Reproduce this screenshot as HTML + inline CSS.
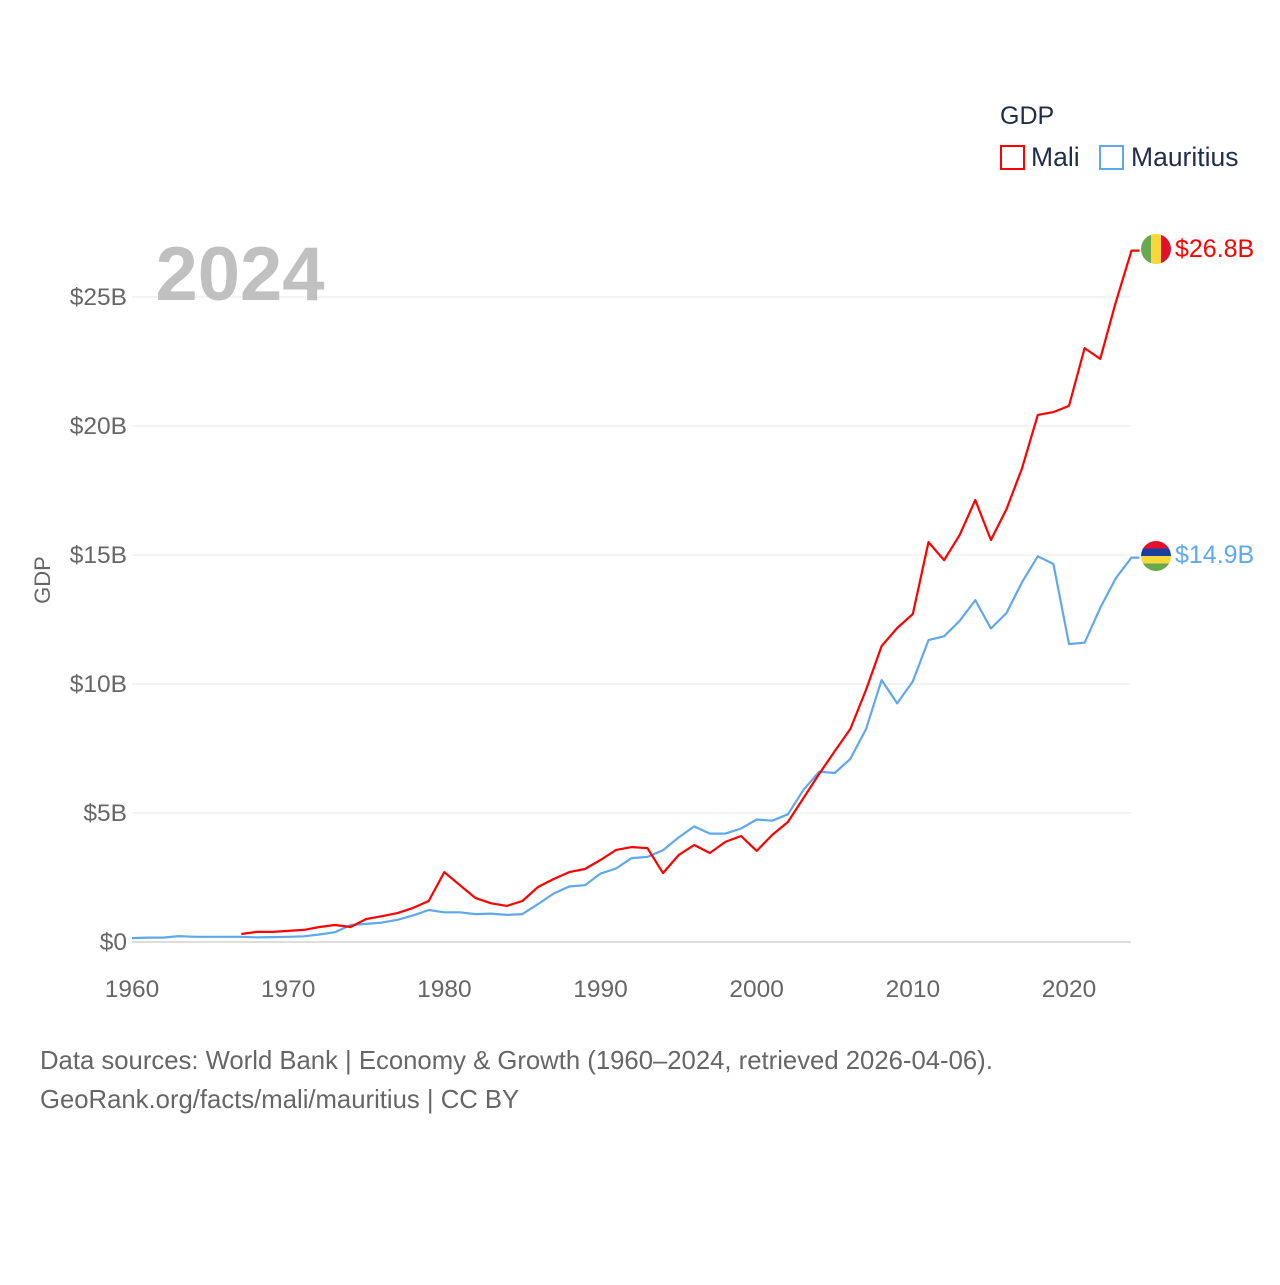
<!DOCTYPE html>
<html><head><meta charset="utf-8"><style>
body{margin:0;background:#fff;font-family:"Liberation Sans",sans-serif}
svg text{font-family:"Liberation Sans",sans-serif}
</style></head><body>
<svg width="1280" height="1280" viewBox="0 0 1280 1280">
<g id="grid"></g>
<g id="xt"></g>
<text x="240" y="300" font-size="76" font-weight="bold" fill="#c0c0c0" text-anchor="middle">2024</text>
<text x="50" y="580" font-size="22" fill="#666" text-anchor="middle" transform="rotate(-90 50 580)">GDP</text>
<g id="lines"></g>
<g>
<text x="1000" y="124" font-size="25" fill="#1f2d4a">GDP</text>
<rect x="1001" y="146" width="23" height="23" fill="none" stroke="#ff0000" stroke-width="2"/>
<text x="1031" y="166" font-size="26.5" fill="#1f2d4a">Mali</text>
<rect x="1100" y="146" width="23" height="23" fill="none" stroke="#5fa8ec" stroke-width="2"/>
<text x="1131" y="166" font-size="26.5" fill="#1f2d4a">Mauritius</text>
</g>
<defs><clipPath id="c1"><circle cx="1156" cy="249" r="15"/></clipPath><clipPath id="c2"><circle cx="1156" cy="556" r="15"/></clipPath></defs>
<g clip-path="url(#c1)">
<rect x="1141" y="234" width="10" height="30" fill="#6aa84f"/><rect x="1151" y="234" width="10" height="30" fill="#f6d83a"/><rect x="1161" y="234" width="10" height="30" fill="#e3102c"/></g>
<g clip-path="url(#c2)">
<rect x="1141" y="541" width="30" height="8" fill="#e3102c"/><rect x="1141" y="548.5" width="30" height="8" fill="#1a3f9e"/><rect x="1141" y="556" width="30" height="8" fill="#f6d83a"/><rect x="1141" y="563.5" width="30" height="8" fill="#6aa84f"/></g>
<text x="1175" y="257" font-size="25" fill="#ff0000">$26.8B</text>
<text x="1175" y="563" font-size="25" fill="#5fa8ec">$14.9B</text>
<text x="40" y="1069" font-size="25.7" fill="#666">Data sources: World Bank | Economy &amp; Growth (1960–2024, retrieved 2026-04-06).</text>
<text x="40" y="1108" font-size="25.7" fill="#666">GeoRank.org/facts/mali/mauritius | CC BY</text>
</svg>
<script>
const maliYears=[1967,1968,1969,1970,1971,1972,1973,1974,1975,1976,1977,1978,1979,1980,1981,1982,1983,1984,1985,1986,1987,1988,1989,1990,1991,1992,1993,1994,1995,1996,1997,1998,1999,2000,2001,2002,2003,2004,2005,2006,2007,2008,2009,2010,2011,2012,2013,2014,2015,2016,2017,2018,2019,2020,2021,2022,2023,2024];
const maliGDP=[0.31,0.39,0.39,0.43,0.47,0.58,0.66,0.58,0.89,1.0,1.12,1.32,1.59,2.71,2.2,1.7,1.5,1.4,1.59,2.13,2.44,2.71,2.83,3.18,3.57,3.68,3.64,2.67,3.37,3.76,3.45,3.88,4.11,3.53,4.15,4.65,5.58,6.51,7.4,8.26,9.77,11.47,12.17,12.71,15.5,14.8,15.78,17.13,15.58,16.78,18.37,20.43,20.54,20.78,23.02,22.6,24.8,26.8];
const mauYears=[1960,1961,1962,1963,1964,1965,1966,1967,1968,1969,1970,1971,1972,1973,1974,1975,1976,1977,1978,1979,1980,1981,1982,1983,1984,1985,1986,1987,1988,1989,1990,1991,1992,1993,1994,1995,1996,1997,1998,1999,2000,2001,2002,2003,2004,2005,2006,2007,2008,2009,2010,2011,2012,2013,2014,2015,2016,2017,2018,2019,2020,2021,2022,2023,2024];
const mauGDP=[0.15,0.17,0.17,0.23,0.2,0.2,0.2,0.2,0.18,0.19,0.2,0.22,0.29,0.38,0.66,0.7,0.75,0.86,1.03,1.24,1.15,1.15,1.08,1.1,1.05,1.08,1.47,1.88,2.15,2.2,2.65,2.85,3.25,3.3,3.56,4.05,4.48,4.2,4.2,4.4,4.75,4.7,4.95,5.9,6.6,6.55,7.1,8.25,10.15,9.25,10.1,11.7,11.85,12.45,13.25,12.15,12.75,13.95,14.95,14.65,11.55,11.6,12.95,14.1,14.9];
const yTicks=[0,5,10,15,20,25];
const yTickLabels=["$0","$5B","$10B","$15B","$20B","$25B"];
const xTicks=[1960,1970,1980,1990,2000,2010,2020];
const NS="http://www.w3.org/2000/svg";
const X=y=>132+(y-1960)*(937/60);
const Y=v=>942-v*129/5;
const grid=document.getElementById('grid'),xt=document.getElementById('xt'),lines=document.getElementById('lines');
yTicks.forEach((t,i)=>{
 const l=document.createElementNS(NS,'line');
 l.setAttribute('x1',132);l.setAttribute('x2',1131);l.setAttribute('y1',Y(t));l.setAttribute('y2',Y(t));
 l.setAttribute('stroke',t===0?'#ddd':'#e8e8e8');l.setAttribute('stroke-width',t===0?2:1);
 
 
 grid.appendChild(l);
 const tx=document.createElementNS(NS,'text');
 tx.setAttribute('x',127);tx.setAttribute('y',Y(t)+8);tx.setAttribute('text-anchor','end');tx.setAttribute('font-size','24.5');tx.setAttribute('fill','#666');
 tx.textContent=yTickLabels[i];
 
 
 grid.appendChild(tx);
});
xTicks.forEach(t=>{
 const tx=document.createElementNS(NS,'text');
 tx.setAttribute('x',X(t));tx.setAttribute('y',997);tx.setAttribute('text-anchor','middle');tx.setAttribute('font-size','24.5');tx.setAttribute('fill','#666');
 tx.textContent=t;
 
 
 xt.appendChild(tx);
});
function line(years,vals,color,name){
 const p=document.createElementNS(NS,'polyline');
 const pts=years.map((y,i)=>X(y).toFixed(1)+','+Y(vals[i]).toFixed(1));
 pts.push((X(years[years.length-1])+8).toFixed(1)+','+Y(vals[vals.length-1]).toFixed(1));
 p.setAttribute('points',pts.join(' '));
 p.setAttribute('fill','none');p.setAttribute('stroke',color);p.setAttribute('stroke-width','2.2');p.setAttribute('stroke-linejoin','round');
 
 
 lines.appendChild(p);
}
line(mauYears,mauGDP,'#5fa8ec','mauritius-line');
line(maliYears,maliGDP,'#ff0000','mali-line');
</script>
</body></html>
